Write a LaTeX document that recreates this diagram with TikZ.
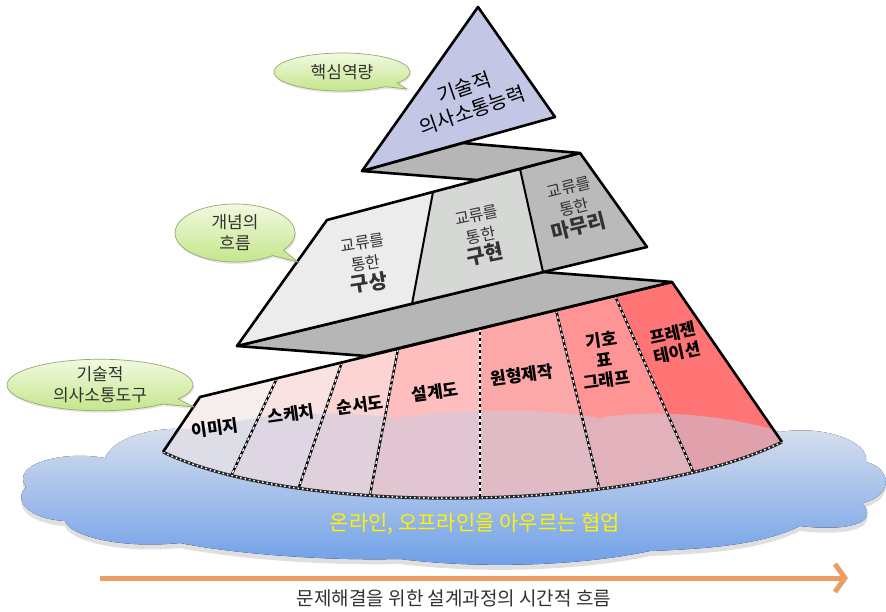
\documentclass[tikz,border=0pt]{standalone}
\usepackage{fontspec}
\setmainfont{Noto Sans CJK KR}
\usetikzlibrary{shapes.callouts,shadows,arrows.meta,calc}

\definecolor{corefill}{RGB}{196,198,230}
\definecolor{foldgray}{RGB}{182,182,182}
\definecolor{idea1}{RGB}{236,236,236}
\definecolor{idea2}{RGB}{214,216,214}
\definecolor{idea3}{RGB}{186,186,186}
\definecolor{tc1}{RGB}{247,238,238}
\definecolor{tc2}{RGB}{250,226,226}
\definecolor{tc3}{RGB}{252,212,212}
\definecolor{tc4}{RGB}{255,190,190}
\definecolor{tc5}{RGB}{253,168,168}
\definecolor{tc6}{RGB}{255,148,148}
\definecolor{tc7}{RGB}{255,116,116}
\definecolor{cloudtop}{RGB}{230,232,238}
\definecolor{cloudmid}{RGB}{172,200,234}
\definecolor{cloudbot}{RGB}{108,158,232}
\definecolor{cloudveil}{RGB}{196,206,228}
\definecolor{bubtop}{RGB}{242,249,224}
\definecolor{bubbot}{RGB}{196,230,140}
\definecolor{bubline}{RGB}{150,168,112}
\definecolor{arrowcol}{RGB}{236,158,98}
\definecolor{capgray}{RGB}{50,50,50}

\newcommand\cloudpath{(26,487) .. controls (10,465) and (60,450) .. (105,458)
    .. controls (115,435) and (160,425) .. (200,430)
    .. controls (260,412) and (330,410) .. (400,418)
    .. controls (460,408) and (540,408) .. (600,418)
    .. controls (640,410) and (720,412) .. (780,432)
    .. controls (820,425) and (870,440) .. (866,462)
    .. controls (892,468) and (894,496) .. (862,503)
    .. controls (880,522) and (850,532) .. (800,526)
    .. controls (760,546) and (700,549) .. (650,551)
    .. controls (580,566) and (480,569) .. (400,559)
    .. controls (320,561) and (230,553) .. (180,543)
    .. controls (120,549) and (70,536) .. (65,521)
    .. controls (30,519) and (12,501) .. (26,487) -- cycle}

\begin{document}
\begin{tikzpicture}[x=1pt, y=-1pt,
    edge/.style={draw=black, line width=2.6pt, line join=round},
    bubble/.style={ellipse callout, draw=bubline, line width=0.7pt, top color=bubtop,
        bottom color=bubbot, inner sep=0pt, align=center, text=capgray,
        font=\fontsize{17}{21}\selectfont,
        drop shadow={opacity=0.2, shadow xshift=1pt, shadow yshift=-2pt}},
    tool/.style={font=\bfseries\fontsize{17}{20}\selectfont, align=center, rotate=8},
    share/.style={font=\fontsize{16}{21}\selectfont, align=center, text=capgray},
    divider/.style={line width=2.4pt},
    dots/.style={white, line width=1.3pt, dash pattern=on 3pt off 3pt}]
    \useasboundingbox (0,0) rectangle (886,612);

    % cloud
    \fill[gray, opacity=0.25] [yshift=-5pt] \cloudpath;
    \fill[top color=cloudtop, middle color=cloudmid, bottom color=cloudbot] \cloudpath;

    % bottom tier
    \coordinate (t0) at (200,397);  \coordinate (b0) at (163,452);
    \coordinate (t1) at (277,378);  \coordinate (b1) at (232,474);
    \coordinate (t2) at (342,362);  \coordinate (b2) at (299,487);
    \coordinate (t3) at (398,349);  \coordinate (b3) at (370,495);
    \coordinate (t4) at (480,329);  \coordinate (b4) at (480,498);
    \coordinate (t5) at (556,310);  \coordinate (b5) at (599,487);
    \coordinate (t6) at (615,296);  \coordinate (b6) at (692,469);
    \coordinate (t7) at (672,282);  \coordinate (b7) at (782,442);
    \begin{scope}
        \clip (t0) -- (t7) -- (b7) .. controls (640,512) and (300,518) .. (b0) -- cycle;
        \foreach \i/\j/\c in {0/1/tc1, 1/2/tc2, 2/3/tc3, 3/4/tc4, 4/5/tc5, 5/6/tc6, 6/7/tc7}
            \fill[\c] (t\i) -- (t\j) -- ($(t\j)!1.5!(b\j)$) -- ($(t\i)!1.5!(b\i)$) -- cycle;
        \fill[cloudveil, opacity=0.5] \cloudpath;
        \foreach \i in {1,...,6}{
            \draw[divider] (t\i) -- ($(t\i)!1.5!(b\i)$);
            \draw[dots] (t\i) -- ($(t\i)!1.5!(b\i)$);
        }
    \end{scope}
    \draw[black!85, line width=3pt] (b7) .. controls (640,512) and (300,518) .. (b0);
    \draw[white, line width=1.5pt, dash pattern=on 1.5pt off 3pt] (b7) .. controls (640,512) and (300,518) .. (b0);
    \draw[edge] (b0) -- (t0) -- (t7) -- (b7);

    \node[tool] (image) at (215,428) {이미지};
    \node[tool] (sketch) at (291,414) {스케치};
    \node[tool] (order) at (360,405) {순서도};
    \node[tool] (plan) at (435,392) {설계도};
    \node[tool] (proto) at (522,375) {원형제작};
    \node[tool] (chart) at (604,360) {기호\\표\\그래프};
    \node[tool, rotate=4] (present) at (675,343) {프레젠\\테이션};

    % fold under the middle tier
    \coordinate (m1) at (237,346);
    \coordinate (m2) at (543,272);
    \coordinate (m3) at (366,356);
    \filldraw[edge, fill=foldgray] (m1) -- (m2) -- (t7) -- (m3) -- cycle;

    % middle tier
    \coordinate (g1) at (327,220);  \coordinate (g2) at (433,192);
    \coordinate (g3) at (520,169);  \coordinate (g4) at (580,153);
    \coordinate (h1) at (237,346);  \coordinate (h2) at (412,304);
    \coordinate (h3) at (543,272);  \coordinate (h4) at (647,247);
    \fill[idea1] (g1) -- (g2) -- (h2) -- (h1) -- cycle;
    \fill[idea2] (g2) -- (g3) -- (h3) -- (h2) -- cycle;
    \fill[idea3] (g3) -- (g4) -- (h4) -- (h3) -- cycle;
    \draw[edge] (g1) -- (g4) -- (h4) -- (h1) -- cycle;
    \draw[line width=2pt] (g2) -- (h2);
    \draw[line width=2pt] (g3) -- (h3);

    \node[share, rotate=9] (concept) at (366,264) {교류를\\통한\\{\bfseries\fontsize{20}{24}\selectfont 구상}};
    \node[share, rotate=12] (build) at (481,236) {교류를\\통한\\{\bfseries\fontsize{20}{24}\selectfont 구현}};
    \node[share, rotate=14] (finish) at (574,208) {교류를\\통한\\{\bfseries\fontsize{20}{24}\selectfont 마무리}};

    % fold under the triangle
    \coordinate (a1) at (362,171);
    \coordinate (a2) at (463,143);
    \coordinate (a3) at (477,180);
    \filldraw[edge, fill=foldgray] (a1) -- (a2) -- (g4) -- (a3) -- cycle;

    % top triangle
    \coordinate (apex) at (478,7);
    \coordinate (a4) at (555,117);
    \filldraw[edge, fill=corefill] (apex) -- (a4) -- (a1) -- cycle;
    \node[font=\fontsize{20}{25}\selectfont, align=center, rotate=19] (core) at (468,99) {기술적\\의사소통능력};

    % speech bubbles
    \node[bubble, minimum width=136pt, minimum height=38pt, callout absolute pointer={(407,89)}] (b-core) at (342,72) {핵심역량};
    \node[bubble, minimum width=120pt, minimum height=58pt, callout absolute pointer={(298,262)}] (b-flow) at (235,233) {개념의\\흐름};
    \node[bubble, minimum width=186pt, minimum height=48pt, callout absolute pointer={(194,407)}] (b-tool) at (100,385) {기술적\\의사소통도구};

    % texts below
    \node[text=yellow, font=\fontsize{21}{25}\selectfont] (collab) at (475,524) {온라인, 오프라인을 아우르는 협업};
    \coordinate (tstart) at (100,578);
    \coordinate (tend) at (848,578);
    \draw[arrowcol, line width=5pt, -{Straight Barb[length=10pt, width=28pt]}] (tstart) -- (tend);
    \node[text=capgray, font=\fontsize{19}{23}\selectfont] (time) at (454,598) {문제해결을 위한 설계과정의 시간적 흐름};
\end{tikzpicture}
\end{document}
